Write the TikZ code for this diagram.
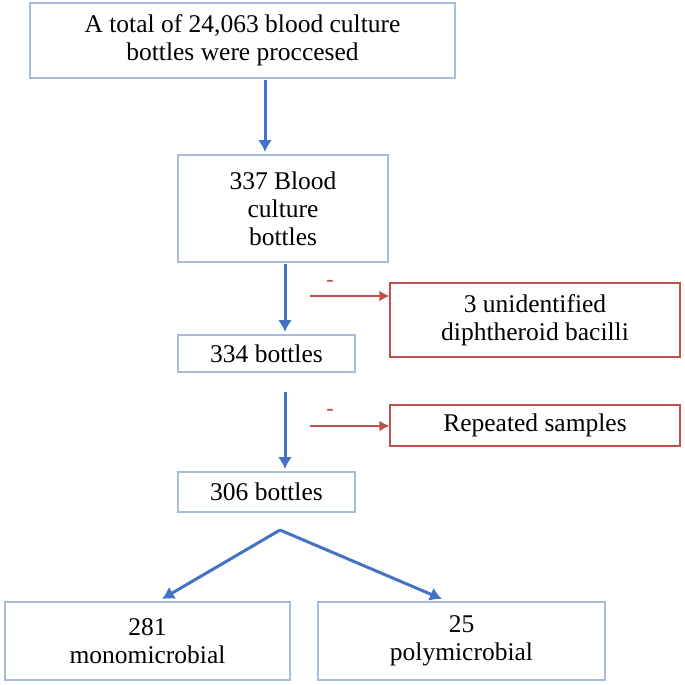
\documentclass[tikz,border=0pt]{standalone}
\usepackage{fontspec}
\setmainfont{Liberation Serif}
\usetikzlibrary{arrows.meta}
\definecolor{bl}{HTML}{4472C4}
\definecolor{rd}{HTML}{C0504D}
\definecolor{bd}{HTML}{A9BCD8}
\begin{document}
\begin{tikzpicture}[x=1pt,y=-1pt,
 box/.style={draw=bd, line width=1.2pt, align=center, inner sep=0pt, font=\fontsize{25.5}{28}\selectfont},
 rbox/.style={draw=rd, line width=1.2pt, align=center, inner sep=0pt, font=\fontsize{25.5}{28}\selectfont},
 barr/.style={draw=bl, line width=3pt, -{Latex[length=12pt,width=14pt]}},
 rarr/.style={draw=rd, line width=2.5pt, -{Latex[length=10pt,width=11pt]}}]
\useasboundingbox[fill=white] (0,0) rectangle (685,685);
\node[box, minimum width=425pt, minimum height=75pt] (a) at (242.5,40.5) {A total of 24,063 blood culture\\bottles were proccesed};
\node[box, minimum width=210pt, minimum height=107pt] (b) at (283,208.5) {337 Blood\\culture\\bottles};
\node[box, minimum width=177pt, minimum height=37pt] (c) at (266.5,353.5) {334 bottles};
\node[box, minimum width=177pt, minimum height=40pt] (d) at (266.5,492) {306 bottles};
\node[rbox, minimum width=290pt, minimum height=74pt] (r1) at (535,320) {3 unidentified\\diphtheroid bacilli};
\node[rbox, minimum width=290pt, minimum height=41pt] (r2) at (535,425.5) {Repeated samples};
\node[box, minimum width=285pt, minimum height=78pt] (e) at (147.5,641) {281\\monomicrobial};
\node[box, minimum width=287pt, minimum height=78pt] (f) at (461.5,641) {25\\polymicrobial};
\coordinate (a1) at (265,80); \coordinate (a2) at (265,152);
\draw[barr] (a1) -- (a2);
\coordinate (b1) at (285,264); \coordinate (b2) at (285,332);
\draw[barr] (b1) -- (b2);
\coordinate (c1) at (285,392); \coordinate (c2) at (285,469);
\draw[barr] (c1) -- (c2);
\coordinate (s) at (280,530);
\draw[barr] (s) -- (162,599);
\draw[barr] (s) -- (442,599);
\coordinate (m1) at (310,296);
\draw[rarr] (m1) -- (r1.west |- m1);
\node[text=rd, font=\fontsize{22}{22}\selectfont\bfseries] (mm1) at (330,283) {-};
\coordinate (m2) at (310,426);
\draw[rarr] (m2) -- (r2.west |- m2);
\node[text=rd, font=\fontsize{22}{22}\selectfont\bfseries] (mm2) at (330,412) {-};
\end{tikzpicture}
\end{document}
